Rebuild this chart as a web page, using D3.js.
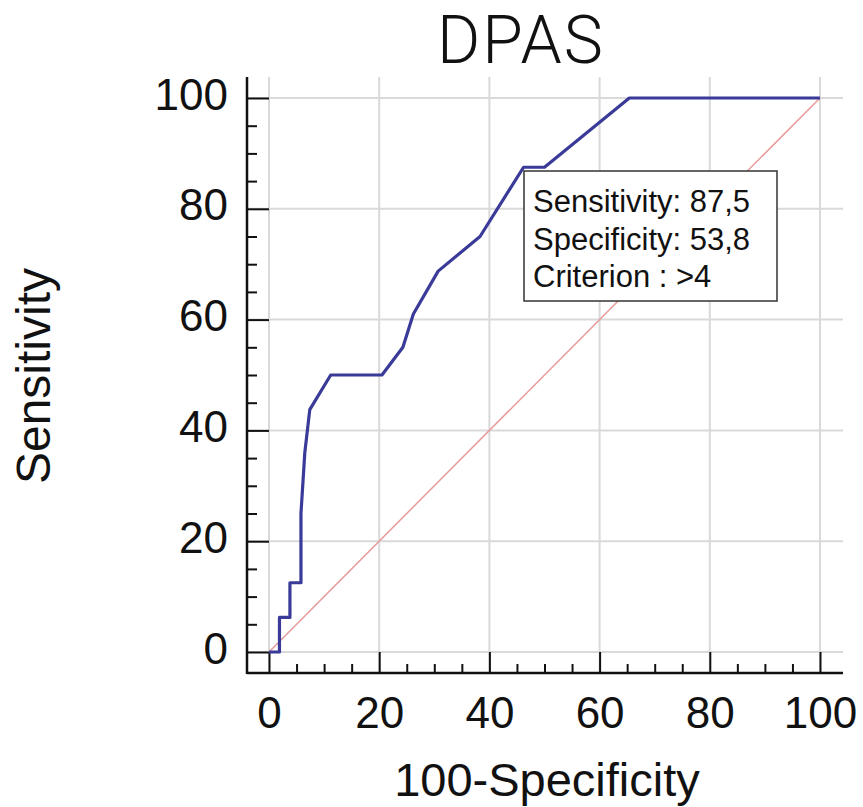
<!DOCTYPE html>
<html>
<head>
<meta charset="utf-8">
<script src="https://cdn.jsdelivr.net/npm/d3@7"></script>
<style>
  body { margin: 0; background: #fff; }
  text { font-family: "Liberation Sans", Arial, sans-serif; fill: #111; }
</style>
</head>
<body>
<div id="chart"></div>
<script>
// roc curve points (100-specificity, sensitivity)
let rocX = [0, 1.9, 1.9, 3.8, 3.8, 5.8, 5.8, 6.5, 7.4, 11.2, 20.5, 24.3, 26.2, 30.7, 38.3, 46.2, 50, 65.4, 100];
let rocY = [0, 0, 6.25, 6.25, 12.5, 12.5, 25, 36, 43.75, 50, 50, 55, 61, 68.75, 75, 87.5, 87.5, 100, 100];

let majorTicks = [0, 20, 40, 60, 80, 100];
let minorTicks = [5, 10, 15, 25, 30, 35, 45, 50, 55, 65, 70, 75, 85, 90, 95];

let infoLines = ['Sensitivity: 87,5', 'Specificity: 53,8', 'Criterion : >4'];

let svgWidth = 863;
let svgHeight = 807;

// frame of the axes (the plot range sits inset from it)
let frame = { left: 247, right: 843, top: 77, bottom: 673 };

let svg = d3.select('#chart')
  .append('svg')
  .attr('width', svgWidth)
  .attr('height', svgHeight);

let x = d3.scaleLinear().domain([0, 100]).range([269, 820]);
let y = d3.scaleLinear().domain([0, 100]).range([652, 98]);

// grid
let grid = svg.append('g').attr('stroke', '#d9d9d9').attr('stroke-width', 2);
grid.selectAll('.vgrid')
  .data(majorTicks)
  .enter()
  .append('line')
  .attr('x1', d => x(d)).attr('x2', d => x(d))
  .attr('y1', frame.top).attr('y2', frame.bottom);
grid.selectAll('.hgrid')
  .data(majorTicks)
  .enter()
  .append('line')
  .attr('x1', frame.left).attr('x2', frame.right)
  .attr('y1', d => y(d)).attr('y2', d => y(d));

// ticks on the left axis, pointing inward
let leftG = svg.append('g').attr('transform', `translate(${frame.left},0)`);
leftG.append('g')
  .call(d3.axisRight(y).tickValues(majorTicks).tickSize(x(0) - frame.left).tickSizeOuter(0).tickFormat(''));
leftG.append('g')
  .call(d3.axisRight(y).tickValues(minorTicks).tickSize(10).tickSizeOuter(0).tickFormat(''));
leftG.append('g')
  .call(d3.axisLeft(y).tickValues(majorTicks).tickSize(0).tickPadding(19));

// bottom axis
let bottomG = svg.append('g').attr('transform', `translate(0,${frame.bottom})`);
bottomG.append('g')
  .call(d3.axisTop(x).tickValues(majorTicks).tickSize(frame.bottom - y(0)).tickSizeOuter(0).tickFormat(''));
bottomG.append('g')
  .call(d3.axisTop(x).tickValues(minorTicks).tickSize(9).tickSizeOuter(0).tickFormat(''));
bottomG.append('g')
  .call(d3.axisBottom(x).tickValues(majorTicks).tickSize(0).tickPadding(24));

svg.selectAll('.domain').remove();
svg.selectAll('.tick line').attr('stroke', '#111').attr('stroke-width', 2);
leftG.selectAll('.tick text').attr('font-size', 44).attr('dy', '0.25em');
bottomG.selectAll('.tick text').attr('font-size', 44);

// axis lines
svg.append('line')
  .attr('x1', frame.left).attr('x2', frame.left)
  .attr('y1', frame.top).attr('y2', frame.bottom + 1)
  .attr('stroke', '#111').attr('stroke-width', 2.5);
svg.append('line')
  .attr('x1', frame.left).attr('x2', frame.right)
  .attr('y1', frame.bottom).attr('y2', frame.bottom)
  .attr('stroke', '#111').attr('stroke-width', 2.5);

// reference diagonal
svg.append('line')
  .attr('x1', x(0)).attr('y1', y(0))
  .attr('x2', x(100)).attr('y2', y(100))
  .attr('stroke', '#e79a9a')
  .attr('stroke-width', 1.5);

// roc curve
let rocData = rocX.map((d, i) => ({ fpr: d, sens: rocY[i] }));
let rocLine = d3.line()
  .x(d => x(d.fpr))
  .y(d => y(d.sens));
svg.append('path')
  .datum(rocData)
  .attr('d', rocLine)
  .attr('fill', 'none')
  .attr('stroke', '#3a3a98')
  .attr('stroke-width', 3.2)
  .attr('stroke-linejoin', 'round');

// info box
let box = svg.append('g').attr('transform', 'translate(524,171)');
box.append('rect')
  .attr('width', 253).attr('height', 130)
  .attr('fill', '#fff')
  .attr('stroke', '#333')
  .attr('stroke-width', 1.5);
box.selectAll('text')
  .data(infoLines)
  .enter()
  .append('text')
  .attr('x', 9)
  .attr('y', (d, i) => 41 + i * 37.5)
  .attr('font-size', 31)
  .text(d => d);

// title
svg.append('text')
  .attr('x', 521)
  .attr('y', 63)
  .attr('text-anchor', 'middle')
  .attr('font-size', 66)
  .attr('letter-spacing', 2)
  .style('font-family', 'Roboto, sans-serif')
  .style('font-weight', 300)
  .text('DPAS');

// axis titles
svg.append('text')
  .attr('transform', 'translate(50,376) rotate(-90)')
  .attr('text-anchor', 'middle')
  .attr('font-size', 48)
  .text('Sensitivity');

svg.append('text')
  .attr('x', 547)
  .attr('y', 796)
  .attr('text-anchor', 'middle')
  .attr('font-size', 47)
  .text('100-Specificity');
</script>
</body>
</html>
